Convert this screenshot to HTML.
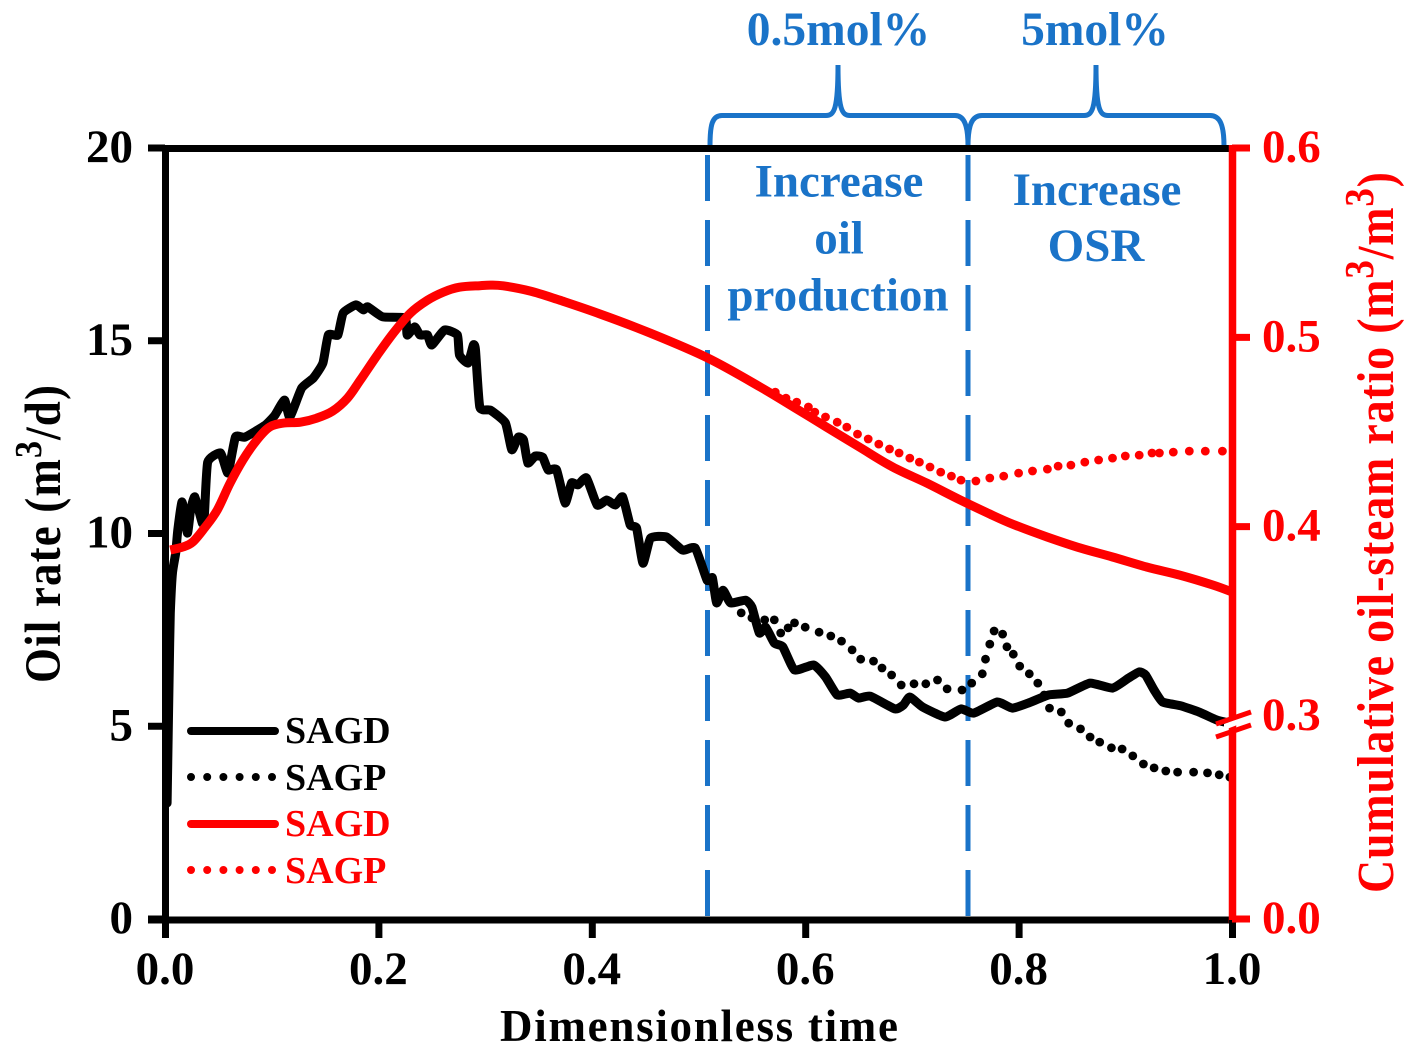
<!DOCTYPE html>
<html lang="en">
<head>
<meta charset="utf-8">
<title>Oil rate and cumulative oil-steam ratio</title>
<style>
html,body{margin:0;padding:0;background:#fff}
svg{display:block}
text{font-family:"Liberation Serif",serif;font-weight:bold}
</style>
</head>
<body>
<svg id="chart" xmlns="http://www.w3.org/2000/svg" width="1409" height="1057" viewBox="0 0 1409 1057">
  <rect width="1409" height="1057" fill="#fff"/>

  <g id="dividers" stroke="#1a73c8" stroke-width="5" stroke-dasharray="46 19" fill="none">
    <line x1="707.5" y1="155" x2="707.5" y2="917"/>
    <line x1="968" y1="155" x2="968" y2="917"/>
  </g>

  <g fill="none" stroke="#1a73c8" stroke-width="5">
    <path d="M710,146 C710,125 712,115.500 722,115.500 L826,115.500 C834,115.500 838,110 838,65 C838,110 842,115.500 850,115.500 L955,115.500 C964,115.500 968,125 968,146"/>
    <path d="M968,146 C968,125 972,115.500 982,115.500 L1084,115.500 C1092,115.500 1096,110 1096,65 C1096,110 1100,115.500 1108,115.500 L1210,115.500 C1220,115.500 1224,125 1224,146"/>
  </g>

  <g fill="#1a73c8" font-size="47">
    <text x="838.500" y="45" text-anchor="middle" font-size="47.500">0.5mol%</text>
    <text x="1095" y="45" text-anchor="middle" font-size="47.500">5mol%</text>
    <text x="839" y="196.500" text-anchor="middle">Increase</text>
    <text x="839" y="253.500" text-anchor="middle">oil</text>
    <text x="838" y="310.500" text-anchor="middle">production</text>
    <text x="1097" y="205" text-anchor="middle">Increase</text>
    <text x="1096" y="261" text-anchor="middle">OSR</text>
  </g>

  <g id="series"></g>
  <g id="axes"></g>

  <text x="500" y="1041" font-size="45" textLength="398" lengthAdjust="spacing" fill="#000">Dimensionless time</text>
  <text transform="translate(60,683) rotate(-90) scale(1,1.12)" font-size="45" textLength="298" lengthAdjust="spacing" fill="#000">Oil rate (m<tspan font-size="34" dy="-17">3</tspan><tspan dy="17">/d)</tspan></text>
  <text transform="translate(1393,893) rotate(-90) scale(1,1.12)" font-size="46" textLength="721" lengthAdjust="spacing" fill="#f00">Cumulative oil-steam ratio (m<tspan font-size="37" dy="-18">3</tspan><tspan dy="18">/m</tspan><tspan font-size="37" dy="-18">3</tspan><tspan dy="18">)</tspan></text>

  <g font-size="38">
    <line x1="191" y1="731" x2="275" y2="731" stroke="#000" stroke-width="8" stroke-linecap="round"/>
    <text x="285" y="743" fill="#000">SAGD</text>
    <line x1="191" y1="777" x2="275" y2="777" stroke="#000" stroke-width="8" stroke-linecap="round" stroke-dasharray="0 16.200"/>
    <text x="285" y="790" fill="#000">SAGP</text>
    <line x1="191" y1="824" x2="275" y2="824" stroke="#f00" stroke-width="8" stroke-linecap="round"/>
    <text x="285" y="836" fill="#f00">SAGD</text>
    <line x1="191" y1="870" x2="275" y2="870" stroke="#f00" stroke-width="8" stroke-linecap="round" stroke-dasharray="0 16.200"/>
    <text x="285" y="883" fill="#f00">SAGP</text>
  </g>
</svg>
<script>
const xTicks = [0, 0.2, 0.4, 0.6, 0.8, 1.0];
const xTickLabels = ['0.0', '0.2', '0.4', '0.6', '0.8', '1.0'];
const leftTicks = [0, 5, 10, 15, 20];
const leftTickLabels = ['0', '5', '10', '15', '20'];
const rightTicks = [0, 0.4, 0.5, 0.6];
const rightTickLabels = ['0.0', '0.4', '0.5', '0.6'];
const rightBreakLabel = '0.3';

const sagdOilT = [0.002,0.004,0.005,0.007,0.010,0.012,0.016,0.021,0.024,0.028,0.035,0.037,0.040,0.052,0.059,0.066,0.075,0.094,0.103,0.112,0.117,0.128,0.139,0.148,0.153,0.162,0.167,0.179,0.186,0.190,0.204,0.225,0.227,0.234,0.239,0.246,0.250,0.262,0.274,0.276,0.284,0.289,0.291,0.295,0.305,0.319,0.325,0.331,0.336,0.340,0.347,0.354,0.359,0.367,0.375,0.381,0.387,0.395,0.405,0.414,0.422,0.429,0.436,0.442,0.448,0.455,0.470,0.485,0.497,0.508,0.513,0.517,0.523,0.530,0.544,0.550,0.557,0.563,0.571,0.579,0.590,0.608,0.619,0.630,0.642,0.650,0.661,0.684,0.692,0.698,0.710,0.731,0.746,0.758,0.780,0.794,0.809,0.828,0.846,0.867,0.888,0.903,0.913,0.919,0.927,0.935,0.952,0.969,0.986,0.998];
const sagdOilRate = [3.01,6.54,7.94,8.98,9.49,10.09,10.82,10.01,10.61,10.95,10.27,10.53,11.85,12.09,11.57,12.50,12.50,12.81,13.07,13.46,13.02,13.77,14.03,14.42,15.15,15.15,15.72,15.93,15.80,15.88,15.62,15.59,15.15,15.36,15.15,15.15,14.89,15.28,15.15,14.63,14.42,14.89,14.76,13.28,13.20,12.87,12.17,12.50,12.43,11.83,12.01,11.98,11.65,11.65,10.79,11.31,11.26,11.44,10.74,10.87,10.74,10.95,10.22,10.14,9.23,9.88,9.91,9.57,9.62,8.79,8.85,8.20,8.53,8.20,8.27,8.09,7.42,7.57,7.16,7.06,6.46,6.59,6.28,5.81,5.86,5.73,5.78,5.45,5.55,5.76,5.50,5.24,5.45,5.34,5.63,5.47,5.60,5.81,5.86,6.12,5.99,6.25,6.41,6.33,5.94,5.63,5.53,5.37,5.16,5.08];

const sagpOilT = [0.540,0.550,0.562,0.571,0.577,0.584,0.590,0.600,0.613,0.624,0.634,0.644,0.652,0.664,0.672,0.681,0.690,0.702,0.713,0.724,0.733,0.747,0.756,0.766,0.769,0.773,0.777,0.785,0.789,0.795,0.801,0.810,0.818,0.824,0.829,0.840,0.847,0.858,0.867,0.876,0.887,0.897,0.907,0.917,0.927,0.938,0.949,0.964,0.977,0.988,0.998];
const sagpOilRate = [7.94,7.81,7.76,7.76,7.42,7.55,7.68,7.57,7.44,7.34,7.21,6.98,6.74,6.69,6.51,6.33,6.07,6.10,6.10,6.20,5.97,5.94,6.12,6.36,6.74,7.13,7.47,7.39,7.06,6.87,6.56,6.36,6.12,5.81,5.47,5.37,5.08,4.93,4.72,4.59,4.44,4.41,4.23,4.02,3.92,3.84,3.81,3.81,3.79,3.74,3.68];

const sagdOsrT = [0.005,0.017,0.026,0.037,0.049,0.061,0.073,0.086,0.098,0.111,0.127,0.142,0.157,0.171,0.183,0.199,0.214,0.230,0.246,0.261,0.276,0.295,0.305,0.317,0.342,0.370,0.408,0.455,0.509,0.558,0.589,0.620,0.651,0.682,0.714,0.745,0.773,0.795,0.827,0.858,0.888,0.920,0.951,0.982,1.000];
const sagdOsr = [0.3877,0.3893,0.3919,0.3993,0.4088,0.4230,0.4352,0.4457,0.4526,0.4547,0.4552,0.4573,0.4610,0.4679,0.4774,0.4906,0.5022,0.5128,0.5196,0.5239,0.5265,0.5273,0.5276,0.5272,0.5245,0.5196,0.5123,0.5022,0.4890,0.4737,0.4632,0.4526,0.4420,0.4315,0.4230,0.4142,0.4067,0.4012,0.3945,0.3887,0.3840,0.3787,0.3744,0.3692,0.3655];

const sagpOsrT = [0.572,0.582,0.592,0.603,0.609,0.619,0.630,0.639,0.649,0.659,0.669,0.679,0.688,0.698,0.707,0.717,0.727,0.737,0.746,0.760,0.773,0.786,0.800,0.813,0.827,0.837,0.849,0.862,0.875,0.888,0.900,0.913,0.925,0.932,0.945,0.960,0.975,0.991];
const sagpOsr = [0.4711,0.4679,0.4658,0.4632,0.4605,0.4579,0.4552,0.4526,0.4489,0.4463,0.4436,0.4410,0.4389,0.4362,0.4341,0.4315,0.4288,0.4267,0.4246,0.4241,0.4257,0.4267,0.4283,0.4294,0.4304,0.4320,0.4325,0.4341,0.4352,0.4362,0.4373,0.4378,0.4389,0.4389,0.4394,0.4399,0.4399,0.4399];

const NS = 'http://www.w3.org/2000/svg';
const seriesGroup = document.getElementById('series');
const axesGroup = document.getElementById('axes');

function xScale(t) { return 165 + t * 1067; }
function yLeft(v) { return 919 - v * 38.55; }
function yRight(v) {
  if (v >= 0.3) return 716 - (v - 0.3) * 1893.3;
  return 919 - (v / 0.3) * 203;
}
function make(tag, attrs, parent) {
  const el = document.createElementNS(NS, tag);
  Object.keys(attrs).forEach(function (k) { el.setAttribute(k, attrs[k]); });
  parent.appendChild(el);
  return el;
}
/* Catmull-Rom smoothing; k sets how much the curve rounds its corners */
function curvePath(ts, vs, yFn, k) {
  const pts = ts.map(function (t, i) { return [xScale(t), yFn(vs[i])]; });
  let d = 'M' + pts[0][0].toFixed(1) + ',' + pts[0][1].toFixed(1);
  for (let i = 0; i < pts.length - 1; i++) {
    const p0 = pts[Math.max(i - 1, 0)];
    const p1 = pts[i];
    const p2 = pts[i + 1];
    const p3 = pts[Math.min(i + 2, pts.length - 1)];
    const c1x = p1[0] + (p2[0] - p0[0]) * k;
    const c1y = p1[1] + (p2[1] - p0[1]) * k;
    const c2x = p2[0] - (p3[0] - p1[0]) * k;
    const c2y = p2[1] - (p3[1] - p1[1]) * k;
    d += ' C' + c1x.toFixed(1) + ',' + c1y.toFixed(1) + ' ' + c2x.toFixed(1) + ',' + c2y.toFixed(1) + ' ' + p2[0].toFixed(1) + ',' + p2[1].toFixed(1);
  }
  return d;
}

/* series */
const sagdOilLine = make('path', { d: curvePath(sagdOilT, sagdOilRate, yLeft, 0.08), fill: 'none', stroke: '#000', 'stroke-width': 9, 'stroke-linejoin': 'round', 'stroke-linecap': 'round' }, seriesGroup);



const sagpOilDots = make('g', { fill: '#000' }, seriesGroup);


sagpOilT.forEach(function (t, i) {
  const dot = make('circle', { cx: xScale(t).toFixed(1), cy: yLeft(sagpOilRate[i]).toFixed(1), r: 4.4 }, sagpOilDots);
  
  
});

const sagpOsrDots = make('g', { fill: '#f00' }, seriesGroup);


sagpOsrT.forEach(function (t, i) {
  const dot = make('circle', { cx: xScale(t).toFixed(1), cy: yRight(sagpOsr[i]).toFixed(1), r: 4.4 }, sagpOsrDots);
  
  
});

const sagdOsrLine = make('path', { d: curvePath(sagdOsrT, sagdOsr, yRight, 0.166), fill: 'none', stroke: '#f00', 'stroke-width': 9, 'stroke-linejoin': 'round' }, seriesGroup);



/* axes */
const topAxis = make('line', { x1: 162, y1: 148.5, x2: 1229, y2: 148.5, stroke: '#000', 'stroke-width': 7 }, axesGroup);



const leftAxis = make('line', { x1: 165.5, y1: 145, x2: 165.5, y2: 923, stroke: '#000', 'stroke-width': 7 }, axesGroup);



const bottomAxis = make('line', { x1: 148, y1: 920, x2: 1229, y2: 920, stroke: '#000', 'stroke-width': 7 }, axesGroup);



const rightAxis = make('line', { x1: 1232.5, y1: 145, x2: 1232.5, y2: 923, stroke: '#f00', 'stroke-width': 7.5 }, axesGroup);



xTicks.forEach(function (t, i) {
  const tick = make('line', { x1: xScale(t) + 0.5, y1: 920, x2: xScale(t) + 0.5, y2: 938, stroke: '#000', 'stroke-width': 7 }, axesGroup);
  
  
  const label = make('text', { x: xScale(t), y: 984, 'text-anchor': 'middle', 'font-size': 47, fill: '#000' }, axesGroup);
  
  
  label.textContent = xTickLabels[i];
});

leftTicks.forEach(function (v, i) {
  const tick = make('line', { x1: 148, y1: yLeft(v), x2: 165, y2: yLeft(v), stroke: '#000', 'stroke-width': 7 }, axesGroup);
  
  
  const label = make('text', { x: 133, y: yLeft(v) + 14, 'text-anchor': 'end', 'font-size': 47, fill: '#000' }, axesGroup);
  
  
  label.textContent = leftTickLabels[i];
});

rightTicks.forEach(function (v, i) {
  const tick = make('line', { x1: 1232, y1: yRight(v), x2: 1250, y2: yRight(v), stroke: '#f00', 'stroke-width': 7 }, axesGroup);
  
  
  const label = make('text', { x: 1262, y: yRight(v) + 14, 'font-size': 47, fill: '#f00' }, axesGroup);
  
  
  label.textContent = rightTickLabels[i];
});

const breakLabel = make('text', { x: 1262, y: yRight(0.3) + 14, 'font-size': 47, fill: '#f00' }, axesGroup);


breakLabel.textContent = rightBreakLabel;

const breakGap = make('polygon', { points: '1224,724 1240,718 1240,724 1224,730', fill: '#fff' }, axesGroup);



const breakUpper = make('line', { x1: 1216, y1: 724, x2: 1251, y2: 712, stroke: '#f00', 'stroke-width': 5 }, axesGroup);



const breakLower = make('line', { x1: 1216, y1: 737, x2: 1251, y2: 725, stroke: '#f00', 'stroke-width': 5 }, axesGroup);


</script>
</body>
</html>
